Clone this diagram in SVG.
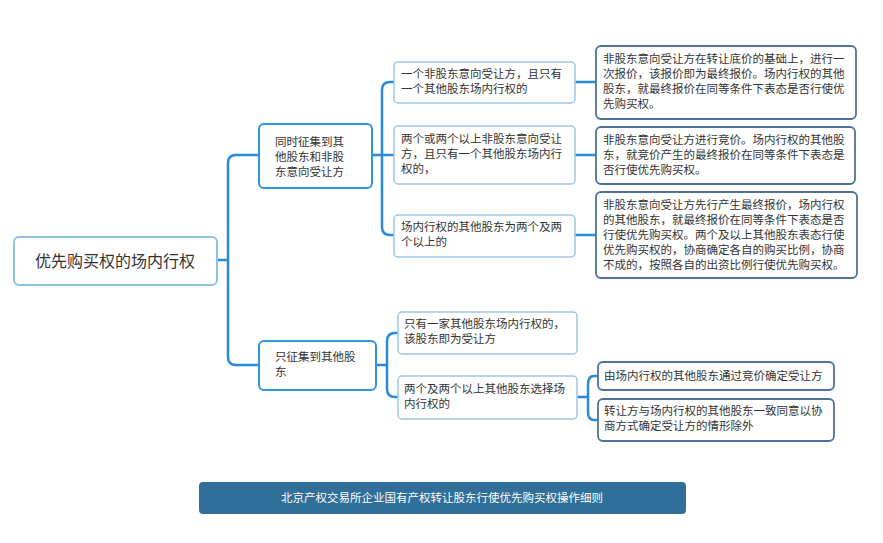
<svg xmlns="http://www.w3.org/2000/svg" width="883" height="543" viewBox="0 0 883 543">
<style>
text{font-family:"Noto Sans CJK SC","Noto Sans",sans-serif;fill:#333;font-size:11.5px}
.r{fill:#fff;stroke:#8cc3e6;stroke-width:2}
.l1{fill:#fff;stroke:#2f95e0;stroke-width:2}
.l2{fill:#fff;stroke:#9cc8e6;stroke-width:1.5}
.l3{fill:#fff;stroke:#4f7396;stroke-width:1.8}
.c{fill:none;stroke:#2a8ad8;stroke-width:2.5}
</style>
<rect width="883" height="543" fill="#fff"/>
<g id="connectors">
<path class="c" d="M217 260H228M228 260V163Q228 155 236 155H259M228 260V357Q228 365 236 365H259"/>
<path class="c" d="M372 155H382M382 155V90Q382 82 390 82H394M382 155H394M382 155V227Q382 235 390 235H394"/>
<path class="c" d="M376 365H387M387 365V341Q387 333 395 333H398M387 365V389Q387 397 395 397H398"/>
<path class="c" d="M575 82H596M575 155H596M575 235H596"/>
<path class="c" d="M577 397H588M588 397V384Q588 376 594 376H598M588 397V412Q588 420 594 420H598"/>
</g>
<g id="root"><rect class="r" x="14" y="237" width="203" height="48" rx="5"/><text x="115" y="267" text-anchor="middle" style="font-size:16px">优先购买权的场内行权</text></g>
<g id="n1"><rect class="l1" x="259" y="124" width="113" height="64" rx="5"/><text x="275" y="146">同时征集到其</text><text x="275" y="161">他股东和非股</text><text x="275" y="176">东意向受让方</text></g>
<g id="n2"><rect class="l1" x="259" y="341" width="117" height="49" rx="5"/><text x="275" y="361">只征集到其他股</text><text x="275" y="376">东</text></g>
<g id="n11"><rect class="l2" x="394" y="62" width="181" height="41" rx="4"/><text x="401" y="78">一个非股东意向受让方，且只有</text><text x="401" y="93">一个其他股东场内行权的</text></g>
<g id="n12"><rect class="l2" x="394" y="126" width="181" height="58" rx="4"/><text x="401" y="143">两个或两个以上非股东意向受让</text><text x="401" y="158">方，且只有一个其他股东场内行</text><text x="401" y="173">权的，</text></g>
<g id="n13"><rect class="l2" x="394" y="215" width="181" height="42" rx="4"/><text x="401" y="231">场内行权的其他股东为两个及两</text><text x="401" y="246">个以上的</text></g>
<g id="n21"><rect class="l2" x="398" y="312" width="179" height="42" rx="4"/><text x="404" y="328">只有一家其他股东场内行权的，</text><text x="404" y="343">该股东即为受让方</text></g>
<g id="n22"><rect class="l2" x="398" y="376" width="179" height="43" rx="4"/><text x="404" y="393">两个及两个以上其他股东选择场</text><text x="404" y="408">内行权的</text></g>
<g id="n111"><rect class="l3" x="596" y="46" width="260" height="73" rx="5"/><text x="603" y="63">非股东意向受让方在转让底价的基础上，进行一</text><text x="603" y="78">次报价，该报价即为最终报价。场内行权的其他</text><text x="603" y="93">股东，就最终报价在同等条件下表态是否行使优</text><text x="603" y="108">先购买权。</text></g>
<g id="n121"><rect class="l3" x="596" y="127" width="259" height="57" rx="5"/><text x="603" y="144">非股东意向受让方进行竞价。场内行权的其他股</text><text x="603" y="159">东，就竞价产生的最终报价在同等条件下表态是</text><text x="603" y="174">否行使优先购买权。</text></g>
<g id="n131"><rect class="l3" x="596" y="192" width="261" height="86" rx="5"/><text x="603" y="209">非股东意向受让方先行产生最终报价，场内行权</text><text x="603" y="224">的其他股东，就最终报价在同等条件下表态是否</text><text x="603" y="239">行使优先购买权。两个及以上其他股东表态行使</text><text x="603" y="254">优先购买权的，协商确定各自的购买比例，协商</text><text x="603" y="269">不成的，按照各自的出资比例行使优先购买权。</text></g>
<g id="n221"><rect class="l3" x="598" y="362" width="236" height="28" rx="5"/><text x="604" y="380">由场内行权的其他股东通过竞价确定受让方</text></g>
<g id="n222"><rect class="l3" x="598" y="399" width="236" height="42" rx="5"/><text x="604" y="415">转让方与场内行权的其他股东一致同意以协</text><text x="604" y="430">商方式确定受让方的情形除外</text></g>
<g id="banner"><rect x="199" y="482" width="487" height="32" rx="4" fill="#2f6f98"/><text x="442" y="502" text-anchor="middle" style="fill:#fff">北京产权交易所企业国有产权转让股东行使优先购买权操作细则</text></g>
</svg>
